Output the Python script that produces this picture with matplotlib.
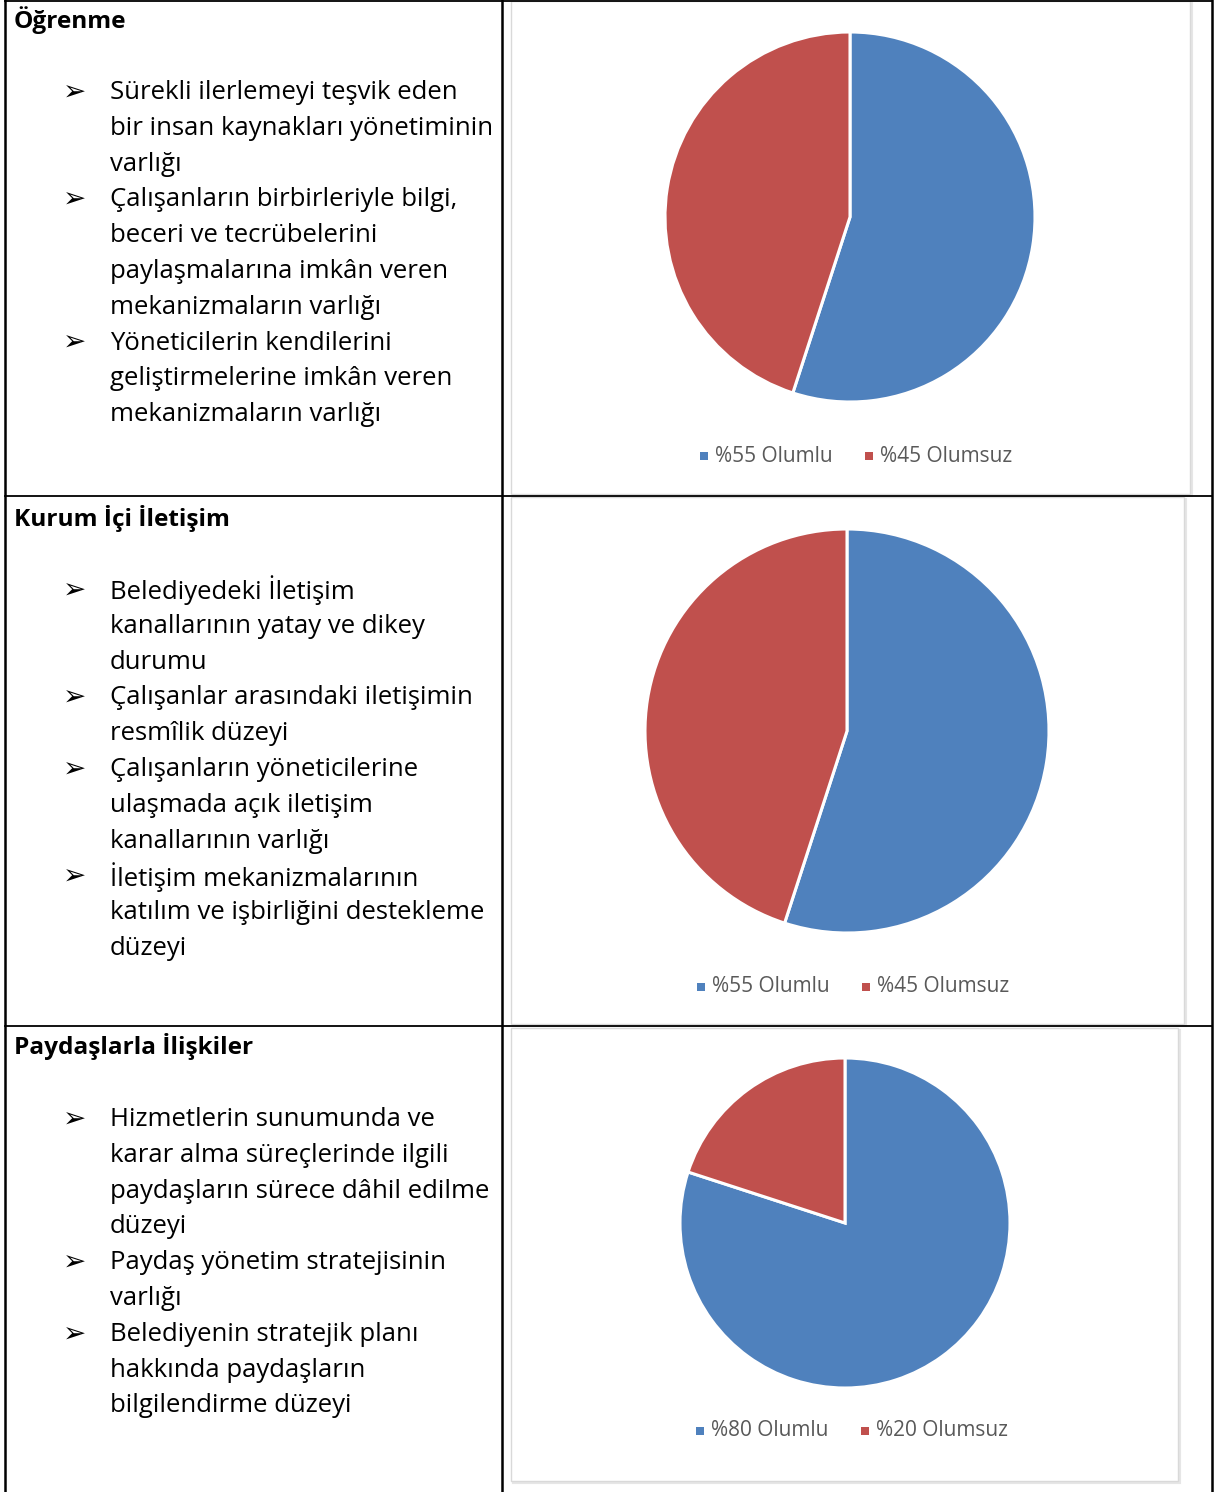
import matplotlib
matplotlib.use('Agg')
import matplotlib.pyplot as plt
from matplotlib.patches import Rectangle

W, H = 1214, 1492

# section headings
titles = ['Öğrenme', 'Kurum İçi İletişim', 'Paydaşlarla İlişkiler']

# bullet items, already wrapped the way they appear in the cell
items_1 = [['Sürekli ilerlemeyi teşvik eden', 'bir insan kaynakları yönetiminin', 'varlığı'],
           ['Çalışanların birbirleriyle bilgi,', 'beceri ve tecrübelerini',
            'paylaşmalarına imkân veren', 'mekanizmaların varlığı'],
           ['Yöneticilerin kendilerini', 'geliştirmelerine imkân veren', 'mekanizmaların varlığı']]
items_2 = [['Belediyedeki İletişim', 'kanallarının yatay ve dikey', 'durumu'],
           ['Çalışanlar arasındaki iletişimin', 'resmîlik düzeyi'],
           ['Çalışanların yöneticilerine', 'ulaşmada açık iletişim', 'kanallarının varlığı'],
           ['İletişim mekanizmalarının', 'katılım ve işbirliğini destekleme', 'düzeyi']]
items_3 = [['Hizmetlerin sunumunda ve', 'karar alma süreçlerinde ilgili',
            'paydaşların sürece dâhil edilme', 'düzeyi'],
           ['Paydaş yönetim stratejisinin', 'varlığı'],
           ['Belediyenin stratejik planı', 'hakkında paydaşların', 'bilgilendirme düzeyi']]
items = [items_1, items_2, items_3]

# pie values (olumlu, olumsuz) and legend labels
values_1 = [55, 45]
values_2 = [55, 45]
values_3 = [80, 20]
labels_1 = ['%55 Olumlu', '%45 Olumsuz']
labels_2 = ['%55 Olumlu', '%45 Olumsuz']
labels_3 = ['%80 Olumlu', '%20 Olumsuz']
values = [values_1, values_2, values_3]
labels = [labels_1, labels_2, labels_3]

colors = ['#4F81BD', '#C0504D']

# layout in pixels
title_y = [20, 518, 1047]
first_item_y = [92.5, 590.5, 1119.5]
line_step = 35.8
boxes = [(511, 1, 1190, 494), (511, 497, 1184, 1024), (511, 1028, 1178, 1481)]
pies = [(850, 217, 185), (847, 731, 202), (845, 1223, 165)]
legend_y = [456, 987, 1431]
legend_x = [704, 701, 700]

fig = plt.figure(figsize=(W / 100, H / 100), dpi=100)
bg = fig.add_axes([0, 0, 1, 1])
bg.set_xlim(0, W)
bg.set_ylim(H, 0)
bg.axis('off')

# table grid
bg.plot([5, 5], [0, H], color='black', lw=1.8)
bg.plot([502, 502], [0, H], color='black', lw=1.8)
bg.plot([1212, 1212], [0, H], color='black', lw=1.8)
for y in [0.6, 496, 1026]:
    bg.plot([5, 1212], [y, y], color='black', lw=1.3)

txt_font = ['Open Sans', 'DejaVu Sans']

for i in range(3):
    bg.text(14, title_y[i], titles[i], fontsize=17.6, fontweight='bold',
            family=txt_font, va='center', ha='left')
    y = first_item_y[i]
    for item in items[i]:
        bg.text(63, y, '➢', fontsize=20, family='DejaVu Sans', va='center', ha='left')
        for line in item:
            bg.text(110, y, line, fontsize=18.5, family=txt_font, va='center', ha='left')
            y += line_step

    # chart frame with a soft shadow
    x0, y0, x1, y1 = boxes[i]
    bg.add_patch(Rectangle((x0 + 1.5, y0 + 1.5), x1 - x0, y1 - y0, facecolor='none',
                           edgecolor='#E6E6E6', lw=1.5))
    bg.add_patch(Rectangle((x0, y0), x1 - x0, y1 - y0, facecolor='white',
                           edgecolor='#D9D9D9', lw=1))

    cx, cy, r = pies[i]
    ax = fig.add_axes([(cx - r) / W, 1 - (cy + r) / H, 2 * r / W, 2 * r / H])
    wedges, _ = ax.pie(values[i], colors=colors, startangle=90, counterclock=False,
                       radius=1, wedgeprops={'edgecolor': 'white', 'linewidth': 2.2})
    ax.set_xlim(-1, 1)
    ax.set_ylim(-1, 1)

    # legend entries
    lx = legend_x[i]
    for k in range(2):
        bg.add_patch(Rectangle((lx - 4 + k * 165, legend_y[i] - 4), 8, 8,
                               facecolor=colors[k], edgecolor='none'))
        bg.text(lx + 11 + k * 165, legend_y[i], labels[i][k], fontsize=15,
                family=txt_font, color='#595959', va='center', ha='left')

fig.savefig('out.png', dpi=100)
